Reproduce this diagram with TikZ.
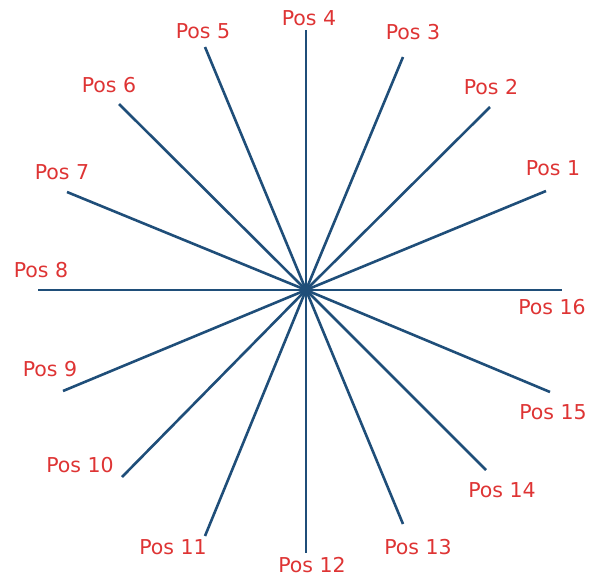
\documentclass[tikz,border=0pt]{standalone}
\usepackage{fontspec}
\setsansfont{DejaVu Sans}
\usetikzlibrary{positioning}
\definecolor{spokeblue}{RGB}{31,78,121}
\definecolor{labelred}{RGB}{222,52,52}
\tikzset{
  spoke/.style={line width=2.6pt, spokeblue},
  poslabel/.style={text=labelred, font=\sffamily\fontsize{20.5}{21}\selectfont, inner sep=0pt}
}

\begin{document}
\begin{tikzpicture}[x=1pt,y=-1pt]
\useasboundingbox (0,0) rectangle (592,579);
\coordinate (hub) at (306,290);
% spoke ends and labels, in image pixels
\foreach \n/\ex/\ey/\lx/\ly in {
  1/546/191/553/168, 2/490/107/491/87, 3/403/57/413/32, 4/306/30/309/18,
  5/205/47/203/31, 6/119/104/109/85, 7/67/192/62/172, 8/38/290/41/270,
  9/63/391/50/369, 10/122/477/80/465, 11/205/536/173/547, 12/306/553/312/565,
  13/403/524/418/547, 14/486/470/502/490, 15/550/392/553/412, 16/562/290/552/307}{
  \coordinate (end\n) at (\ex,\ey);
  \node[poslabel] (pos\n) at (\lx,\ly) {Pos \n};
  \draw[spoke] (hub) -- (end\n);
}
\end{tikzpicture}
\end{document}
